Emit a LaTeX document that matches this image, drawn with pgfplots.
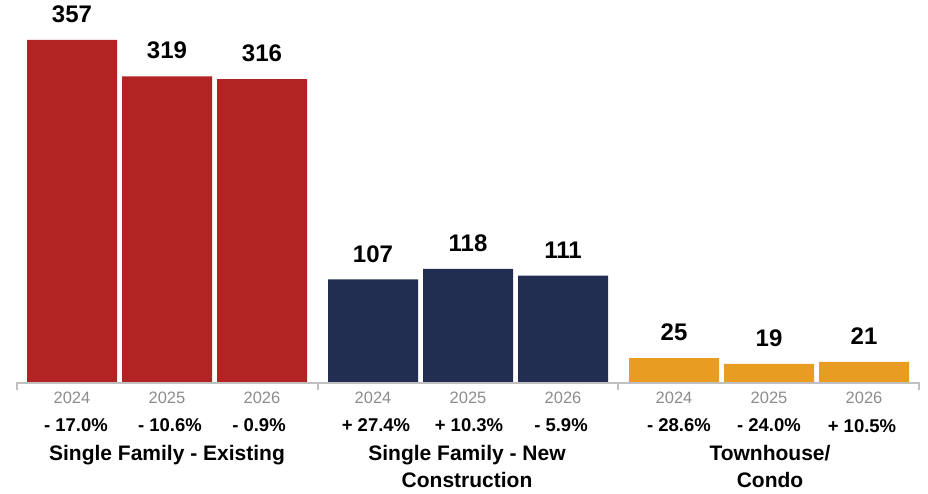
\documentclass[border=0pt]{standalone}
\usepackage{pgfplots}
\pgfplotsset{compat=1.18}
\usepackage{fontspec}
\setmainfont{Liberation Sans}
\definecolor{cRed}{HTML}{B22324}
\definecolor{cNavy}{HTML}{222D52}
\definecolor{cOrange}{HTML}{E89D22}
\definecolor{cGrayLine}{HTML}{C0C0C0}
\definecolor{cGrayText}{HTML}{8C8C8C}
\begin{document}
\begin{tikzpicture}
\tikzset{yr/.style={text=cGrayText, font=\fontsize{16.5}{19}\selectfont},
  pct/.style={font=\fontsize{18.5}{22}\selectfont\bfseries},
  grp/.style={font=\fontsize{21}{27}\selectfont\bfseries, align=center, inner sep=0pt}}
\useasboundingbox (0,0) rectangle (928pt,493pt);
\begin{axis}[
  at={(0,0)}, anchor=south west,
  scale only axis,
  width=928pt, height=493pt,
  xmin=0, xmax=928,
  ymin=-115.87, ymax=398.7,
  hide axis,
  clip=false,
  ybar, bar width=90pt, bar shift=0pt,
  point meta=explicit symbolic,
  nodes near coords,
  every node near coord/.style={anchor=south, inner sep=0pt, yshift=17pt, font=\fontsize{24}{28}\selectfont\bfseries, text=black},
]
\addplot[fill=cRed, draw=none] coordinates {(72,357)[357] (167,319)[319] (262,316)[316]};
\addplot[fill=cNavy, draw=none] coordinates {(373,107)[107] (468,118)[118] (563,111)[111]};
\addplot[fill=cOrange, draw=none] coordinates {(674,25)[25] (769,19)[19] (864,21)[21]};

% baseline with separators
\draw[cGrayLine, line width=2pt] (axis cs:17,-8) -- (axis cs:17,-0.7) -- (axis cs:919,-0.7) -- (axis cs:919,-8);
\draw[cGrayLine, line width=2pt] (axis cs:318,-0.7) -- (axis cs:318,-8);
\draw[cGrayLine, line width=2pt] (axis cs:618,-0.7) -- (axis cs:618,-8);

% year labels
\node[yr] at (axis cs:72,-17) {2024};
\node[yr] at (axis cs:167,-17) {2025};
\node[yr] at (axis cs:262,-17) {2026};
\node[yr] at (axis cs:373,-17) {2024};
\node[yr] at (axis cs:468,-17) {2025};
\node[yr] at (axis cs:563,-17) {2026};
\node[yr] at (axis cs:674,-17) {2024};
\node[yr] at (axis cs:769,-17) {2025};
\node[yr] at (axis cs:864,-17) {2026};

% percent changes
\node[pct] at (axis cs:76,-44.9) {- 17.0\%};
\node[pct] at (axis cs:170,-44.9) {- 10.6\%};
\node[pct] at (axis cs:259,-44.9) {- 0.9\%};
\node[pct] at (axis cs:376,-44.9) {+ 27.4\%};
\node[pct] at (axis cs:469,-44.9) {+ 10.3\%};
\node[pct] at (axis cs:561,-44.9) {- 5.9\%};
\node[pct] at (axis cs:679,-44.9) {- 28.6\%};
\node[pct] at (axis cs:769,-44.9) {- 24.0\%};
\node[pct] at (axis cs:862,-46.5) {+ 10.5\%};

% group names
\node[grp] at (axis cs:167,-76.5) {Single Family - Existing};
\node[grp] at (axis cs:467,-88.7) {Single Family - New\\Construction};
\node[grp] at (axis cs:770,-88.7) {Townhouse/\\Condo};
\end{axis}
\end{tikzpicture}
\end{document}
